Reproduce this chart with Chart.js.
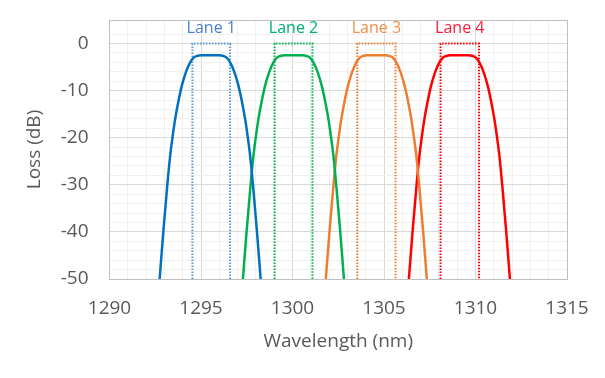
<!DOCTYPE html>
<html>
<head>
<meta charset="utf-8">
<script src="https://cdn.jsdelivr.net/npm/chart.js@4/dist/chart.umd.min.js"></script>
<style>
  html, body { margin: 0; padding: 0; background: #fff; }
  #wrap { width: 605px; height: 378px; }
</style>
</head>
<body>
<div id="wrap"><canvas id="c" width="605" height="378"></canvas></div>
<script>
// loss values shared by every lane curve (dB)
const loss = [-50, -40, -30, -24, -20, -16, -12, -9, -6, -4, -3, -2.65, -2.5,
              -2.5, -2.65, -3, -4, -6, -9, -12, -16, -20, -24, -30, -40, -50];

// wavelength points of each lane curve (nm)
const lane1 = [1292.74, 1292.94, 1293.16, 1293.31, 1293.44, 1293.59, 1293.78, 1293.95, 1294.18, 1294.41, 1294.60, 1294.78, 1295.00,
               1296.00, 1296.22, 1296.40, 1296.59, 1296.82, 1297.05, 1297.22, 1297.41, 1297.56, 1297.69, 1297.84, 1298.06, 1298.26];
const lane2 = [1297.29, 1297.49, 1297.71, 1297.86, 1297.99, 1298.14, 1298.33, 1298.50, 1298.73, 1298.96, 1299.15, 1299.33, 1299.55,
               1300.55, 1300.77, 1300.95, 1301.14, 1301.37, 1301.60, 1301.77, 1301.96, 1302.11, 1302.24, 1302.39, 1302.61, 1302.81];
const lane3 = [1301.82, 1302.02, 1302.24, 1302.39, 1302.52, 1302.67, 1302.86, 1303.03, 1303.26, 1303.49, 1303.68, 1303.86, 1304.08,
               1305.08, 1305.30, 1305.48, 1305.67, 1305.90, 1306.13, 1306.30, 1306.49, 1306.64, 1306.77, 1306.92, 1307.14, 1307.34];
const lane4 = [1306.36, 1306.56, 1306.78, 1306.93, 1307.06, 1307.21, 1307.40, 1307.57, 1307.80, 1308.03, 1308.22, 1308.40, 1308.62,
               1309.62, 1309.84, 1310.02, 1310.21, 1310.44, 1310.67, 1310.84, 1311.03, 1311.18, 1311.31, 1311.46, 1311.68, 1311.88];

// lane passbands (nm) and their dotted boxes
const laneNames = ["Lane 1", "Lane 2", "Lane 3", "Lane 4"];
const bandLow = [1294.53, 1299.02, 1303.54, 1308.09];
const bandHigh = [1296.59, 1301.09, 1305.63, 1310.19];
const boxLoss = [-50, 0, 0, -50];
const labelLoss = 3.2;

const curveColors = ["#0070c0", "#00b050", "#ed7d31", "#ff0000"];
const boxColors = ["#5b9bd5", "#00b050", "#ed7d31", "#ff0000"];
const labelColors = ["#4a7fd4", "#00b070", "#f0904a", "#ff1a3a"];

const xTicks = [1290, 1295, 1300, 1305, 1310, 1315];
const yTicks = [0, -10, -20, -30, -40, -50];

const curves = [lane1, lane2, lane3, lane4];
const datasets = [];
curves.forEach((xs, i) => {
  datasets.push({
    data: xs.map((x, k) => ({ x: x, y: loss[k] })),
    borderColor: curveColors[i],
    borderWidth: 2.5,
    pointRadius: 0,
    showLine: true,
    cubicInterpolationMode: "monotone",
    fill: false
  });
  datasets.push({
    data: [bandLow[i], bandLow[i], bandHigh[i], bandHigh[i]].map((x, k) => ({ x: x, y: boxLoss[k] })),
    borderColor: boxColors[i],
    borderWidth: 2,
    borderDash: [1.5, 1.5],
    pointRadius: 0,
    showLine: true,
    tension: 0,
    fill: false
  });
});

const laneLabels = {
  id: "laneLabels",
  afterDatasetsDraw(chart) {
    const { ctx, scales } = chart;
    ctx.save();
    ctx.font = "16px 'Open Sans', sans-serif";
    ctx.textAlign = "center";
    ctx.textBaseline = "middle";
    laneNames.forEach((name, i) => {
      ctx.fillStyle = labelColors[i];
      const cx = scales.x.getPixelForValue((bandLow[i] + bandHigh[i]) / 2);
      ctx.fillText(name, cx, scales.y.getPixelForValue(labelLoss));
    });
    ctx.restore();
  }
};

const gridColor = (major, edge) => (ctx) => {
  const v = ctx.tick.value;
  if (edge.includes(v)) return "#bfbfbf";
  return major.includes(v) ? "#d9d9d9" : "#f0f0f0";
};

new Chart(document.getElementById("c"), {
  type: "scatter",
  data: { datasets: datasets },
  options: {
    responsive: false,
    animation: false,
    layout: { padding: { top: 20, right: 38, left: 0, bottom: 0 } },
    plugins: { legend: { display: false }, tooltip: { enabled: false } },
    scales: {
      x: {
        type: "linear",
        min: 1290,
        max: 1315,
        afterFit: (s) => { s.height = 99; s.paddingLeft = 0; s.paddingRight = 0; },
        ticks: {
          stepSize: 1,
          autoSkip: false,
          maxRotation: 0,
          padding: 18,
          color: "#595959",
          font: { family: "'Open Sans', sans-serif", size: 19 },
          callback: (v) => xTicks.includes(v) ? String(v) : ""
        },
        grid: { color: gridColor(xTicks, [1315]), drawTicks: false, lineWidth: 1 },
        border: { color: "#bfbfbf", width: 1 },
        title: {
          display: true,
          text: "Wavelength (nm)",
          color: "#595959",
          font: { family: "'Open Sans', sans-serif", size: 19 },
          padding: { top: 0, bottom: 25 }
        }
      },
      y: {
        type: "linear",
        min: -50,
        max: 5,
        afterFit: (s) => { s.width = 109.5; s.paddingTop = 0; s.paddingBottom = 0; },
        ticks: {
          stepSize: 2,
          autoSkip: false,
          padding: 21,
          color: "#595959",
          font: { family: "'Open Sans', sans-serif", size: 19 },
          callback: (v) => yTicks.includes(v) ? String(v) : ""
        },
        grid: { color: gridColor(yTicks, [5]), drawTicks: false, lineWidth: 1 },
        border: { color: "#bfbfbf", width: 1 },
        title: {
          display: true,
          text: "Loss (dB)",
          color: "#595959",
          font: { family: "'Open Sans', sans-serif", size: 19 },
          padding: { top: 23, bottom: 0 }
        }
      }
    }
  },
  plugins: [laneLabels]
});
</script>
</body>
</html>
